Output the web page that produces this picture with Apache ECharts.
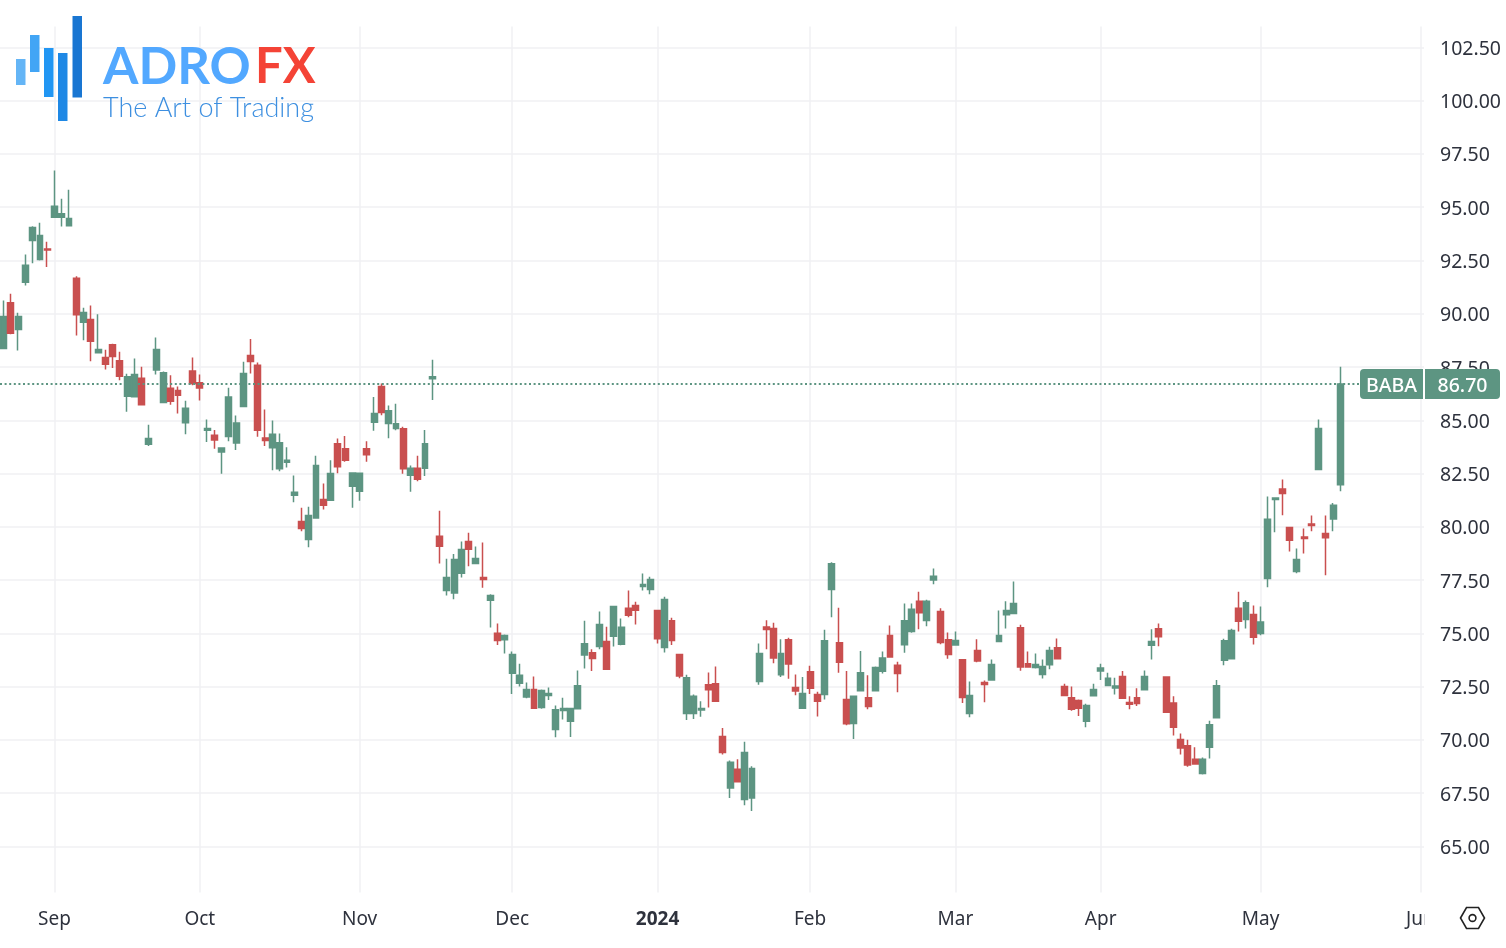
<!DOCTYPE html>
<html>
<head>
<meta charset="utf-8">
<title>BABA</title>
<script src="https://cdn.jsdelivr.net/npm/echarts@6/dist/echarts.min.js"></script>
<style>
  html, body { margin: 0; padding: 0; background: #fff; }
  #chart { width: 1506px; height: 948px; }
</style>
</head>
<body>
<div id="chart"></div>
<script>
// --- séances de bourse, y compris celles à venir jusqu'au 3 juin --- //
const tradingDays = [
  '2023-08-23','2023-08-24','2023-08-25','2023-08-28','2023-08-29','2023-08-30','2023-08-31',
  '2023-09-01','2023-09-05','2023-09-06','2023-09-07','2023-09-08','2023-09-11','2023-09-12','2023-09-13','2023-09-14','2023-09-15','2023-09-18','2023-09-19','2023-09-20','2023-09-21','2023-09-22','2023-09-25','2023-09-26','2023-09-27','2023-09-28','2023-09-29',
  '2023-10-02','2023-10-03','2023-10-04','2023-10-05','2023-10-06','2023-10-09','2023-10-10','2023-10-11','2023-10-12','2023-10-13','2023-10-16','2023-10-17','2023-10-18','2023-10-19','2023-10-20','2023-10-23','2023-10-24','2023-10-25','2023-10-26','2023-10-27','2023-10-30','2023-10-31',
  '2023-11-01','2023-11-02','2023-11-03','2023-11-06','2023-11-07','2023-11-08','2023-11-09','2023-11-10','2023-11-13','2023-11-14','2023-11-15','2023-11-16','2023-11-17','2023-11-20','2023-11-21','2023-11-22','2023-11-24','2023-11-27','2023-11-28','2023-11-29','2023-11-30',
  '2023-12-01','2023-12-04','2023-12-05','2023-12-06','2023-12-07','2023-12-08','2023-12-11','2023-12-12','2023-12-13','2023-12-14','2023-12-15','2023-12-18','2023-12-19','2023-12-20','2023-12-21','2023-12-22','2023-12-26','2023-12-27','2023-12-28','2023-12-29',
  '2024-01-02','2024-01-03','2024-01-04','2024-01-05','2024-01-08','2024-01-09','2024-01-10','2024-01-11','2024-01-12','2024-01-16','2024-01-17','2024-01-18','2024-01-19','2024-01-22','2024-01-23','2024-01-24','2024-01-25','2024-01-26','2024-01-29','2024-01-30','2024-01-31',
  '2024-02-01','2024-02-02','2024-02-05','2024-02-06','2024-02-07','2024-02-08','2024-02-09','2024-02-12','2024-02-13','2024-02-14','2024-02-15','2024-02-16','2024-02-20','2024-02-21','2024-02-22','2024-02-23','2024-02-26','2024-02-27','2024-02-28','2024-02-29',
  '2024-03-01','2024-03-04','2024-03-05','2024-03-06','2024-03-07','2024-03-08','2024-03-11','2024-03-12','2024-03-13','2024-03-14','2024-03-15','2024-03-18','2024-03-19','2024-03-20','2024-03-21','2024-03-22','2024-03-25','2024-03-26','2024-03-27','2024-03-28',
  '2024-04-01','2024-04-02','2024-04-03','2024-04-04','2024-04-05','2024-04-08','2024-04-09','2024-04-10','2024-04-11','2024-04-12','2024-04-15','2024-04-16','2024-04-17','2024-04-18','2024-04-19','2024-04-22','2024-04-23','2024-04-24','2024-04-25','2024-04-26','2024-04-29','2024-04-30',
  '2024-05-01','2024-05-02','2024-05-03','2024-05-06','2024-05-07','2024-05-08','2024-05-09','2024-05-10','2024-05-13','2024-05-14','2024-05-15','2024-05-16','2024-05-17','2024-05-20','2024-05-21','2024-05-22','2024-05-23','2024-05-24','2024-05-28','2024-05-29','2024-05-30','2024-05-31',
  '2024-06-03'
];

const opens = [
  88.37,90.52,89.26,91.48,93.44,92.55,93.04,94.53,94.53,94.13,
  91.66,89.60,89.73,88.17,87.95,88.54,87.79,86.13,86.11,86.97,
  83.87,87.36,85.84,86.50,86.40,84.89,87.31,86.76,84.53,84.30,
  83.51,84.24,83.93,85.65,88.04,87.58,84.17,83.71,82.73,83.03,
  81.48,80.25,79.40,80.42,81.28,81.25,83.90,83.67,81.90,81.67,
  83.67,84.91,86.59,84.85,84.62,84.60,82.42,82.75,82.75,86.95,
  79.56,77.01,76.89,77.82,79.31,78.28,77.62,76.56,75.01,74.70,
  73.13,72.66,72.01,72.37,71.52,72.09,70.49,71.38,70.88,71.46,
  73.98,74.09,74.39,74.62,74.87,74.49,76.18,76.31,77.20,77.06,
  76.07,74.34,75.59,74.01,71.24,71.24,71.41,72.59,72.64,70.16,
  67.74,68.62,67.21,67.27,72.74,75.30,75.23,73.06,74.70,72.46,
  71.49,73.20,72.13,72.13,77.06,74.56,71.90,70.77,72.31,71.98,
  72.31,73.22,74.90,73.50,74.47,75.09,76.51,75.60,77.50,76.03,
  74.70,74.45,73.76,71.24,74.20,72.70,72.81,74.62,75.88,75.93,
  75.26,73.57,73.40,73.07,73.53,74.32,72.51,71.98,71.85,70.88,
  72.07,73.24,72.56,72.44,72.98,71.76,71.98,72.36,74.44,75.22,
  72.95,71.73,70.02,69.73,69.09,68.43,69.66,71.04,73.74,73.81,
  76.18,75.65,75.89,74.99,77.57,81.28,81.78,79.97,77.90,79.52,
  80.13,82.69,79.69,80.37,81.97
];
const highs = [
  90.62,90.94,90.05,92.78,94.11,94.27,93.38,96.72,95.40,95.82,
  91.76,90.28,90.39,89.98,88.31,88.59,88.22,87.18,87.90,87.51,
  84.79,88.89,87.29,87.11,86.58,85.92,87.95,87.15,85.04,84.54,
  83.73,86.53,85.23,87.75,88.81,87.71,85.51,84.99,84.38,83.73,
  82.41,80.90,80.94,83.34,82.03,83.12,84.15,84.26,82.55,82.53,
  84.02,86.09,86.73,85.70,85.78,84.70,82.88,83.34,84.54,87.84,
  80.76,78.50,78.73,79.31,79.72,79.08,79.27,76.84,75.46,74.95,
  74.15,73.57,72.70,72.98,72.37,72.46,71.62,71.98,71.50,73.26,
  75.59,74.25,76.03,75.31,76.29,75.70,77.01,76.48,77.81,77.66,
  76.11,76.72,75.73,74.03,73.06,72.13,71.81,73.17,73.44,70.56,
  69.03,69.09,69.92,68.77,74.53,75.62,75.50,74.73,74.80,73.07,
  72.95,73.48,72.26,75.17,78.34,76.20,73.23,72.09,74.17,73.03,
  73.44,74.15,75.37,73.67,76.40,76.40,76.95,76.58,78.05,76.18,
  75.04,75.09,73.77,72.74,74.73,72.79,73.77,76.07,76.51,77.43,
  75.40,74.15,74.06,73.77,74.37,74.76,72.64,72.51,71.90,71.70,
  72.64,73.57,73.15,72.92,73.23,72.05,72.42,73.26,75.19,75.46,
  72.98,72.05,70.30,70.01,69.66,69.18,70.90,72.81,74.75,75.22,
  76.95,76.54,76.31,76.26,81.42,81.37,82.22,79.99,78.98,79.92,
  80.53,85.04,80.53,81.12,87.51
];
const lows = [
  88.34,89.04,88.27,91.33,92.37,92.50,92.19,94.53,94.10,94.11,
  88.98,88.76,87.77,88.16,87.38,87.45,86.88,85.40,86.10,85.70,
  83.79,87.15,85.81,85.73,85.32,84.34,86.64,85.93,83.98,83.67,
  82.49,84.02,83.60,85.62,87.20,84.23,83.79,82.66,82.61,82.78,
  81.15,79.79,79.04,80.40,80.81,81.22,82.51,83.05,80.90,81.22,
  83.05,84.51,85.24,84.16,84.53,82.49,81.65,82.14,82.38,85.95,
  78.28,76.78,76.60,77.62,78.15,78.25,77.14,75.28,74.46,74.06,
  72.15,72.51,71.95,71.47,71.46,71.87,70.12,70.96,70.14,71.44,
  73.35,73.23,74.26,73.30,74.39,74.44,75.76,75.42,77.01,76.84,
  74.53,74.10,74.45,72.89,70.93,70.98,71.09,71.52,71.79,69.32,
  67.27,68.02,66.94,66.66,72.59,74.26,73.60,72.95,72.87,72.10,
  71.47,72.15,71.10,71.90,75.76,73.15,70.69,70.04,72.29,71.44,
  72.28,73.12,73.87,72.24,74.09,75.03,75.19,75.34,77.31,74.49,
  73.81,74.42,71.73,71.06,73.65,71.77,72.79,74.59,75.23,75.91,
  73.25,73.40,73.35,72.88,73.32,73.79,72.05,71.37,71.12,70.60,
  72.05,72.81,72.52,72.13,71.94,71.44,71.59,72.34,73.77,74.40,
  71.28,70.21,69.32,68.74,68.85,68.38,69.13,71.01,73.51,73.79,
  75.09,75.23,74.48,74.91,77.17,79.75,80.54,78.84,77.82,78.75,
  79.79,82.66,77.73,79.79,81.67
];
const closes = [
  89.87,89.08,89.87,92.27,94.05,93.67,92.99,95.05,94.69,94.47,
  89.95,90.06,88.71,88.32,87.63,87.99,87.07,87.04,87.15,85.73,
  84.15,88.32,87.23,85.89,86.17,85.56,86.73,86.51,84.62,84.07,
  83.70,86.09,84.87,87.19,87.76,84.53,84.05,84.34,83.95,83.12,
  81.62,79.92,80.53,82.88,81.01,82.50,82.82,83.13,82.53,82.51,
  83.38,85.32,85.37,85.45,84.84,82.73,82.75,82.23,83.90,87.04,
  79.09,77.62,78.47,78.94,78.95,78.51,77.53,76.78,74.67,74.90,
  74.01,73.03,72.37,71.49,72.32,72.18,71.42,71.48,71.48,72.54,
  74.51,73.82,75.42,73.32,76.26,75.29,75.85,76.09,77.29,77.53,
  74.75,76.59,74.67,73.00,72.92,72.05,71.48,72.36,71.81,69.41,
  68.95,68.04,69.41,68.66,74.06,75.18,73.84,74.06,73.56,72.30,
  72.18,72.42,71.81,74.65,78.27,73.65,70.76,72.05,73.15,71.57,
  73.40,73.84,73.89,73.12,75.59,76.13,75.97,76.51,77.68,74.57,
  74.01,74.67,71.99,72.09,73.70,72.60,73.54,74.90,76.07,76.40,
  73.42,73.42,73.54,73.44,74.20,73.81,72.09,71.44,71.49,71.62,
  72.37,73.38,72.90,72.53,71.96,71.67,71.71,72.98,74.62,74.84,
  71.30,70.60,69.62,68.82,68.87,69.09,70.71,72.54,74.65,75.14,
  75.57,76.44,74.82,75.54,80.36,81.35,81.56,79.37,78.47,79.45,
  80.06,84.62,79.49,81.01,86.70
];

const priceTicks = [65, 67.5, 70, 72.5, 75, 77.5, 80, 82.5, 85, 87.5, 90, 92.5, 95, 97.5, 100, 102.5];
const monthDays = ['2023-09-01','2023-10-02','2023-11-01','2023-12-01','2024-01-02','2024-02-01','2024-03-01','2024-04-01','2024-05-01','2024-06-03'];
const monthLabels = ['Sep','Oct','Nov','Dec','2024','Feb','Mar','Apr','May','Jun'];
const symbol = 'BABA';
const lastPrice = 86.70;

const upColor = '#5d9582';
const downColor = '#c94f4f';
const gridColor = '#f0f1f3';
const textColor = '#2e323d';
const labelFont = '"Noto Sans", sans-serif';

const isMonthDay = (i, day) => monthDays.includes(day);

// --- logo et icône, en dehors du repère --- //
const logoBars = [
  { x: 16, y: 59, width: 9.5, height: 26, fill: '#64b5f6' },
  { x: 30, y: 35, width: 9.5, height: 37, fill: '#42a5f5' },
  { x: 44, y: 48, width: 9.5, height: 49, fill: '#2196f3' },
  { x: 58, y: 53, width: 9.5, height: 68, fill: '#1e88e5' },
  { x: 72.5, y: 16, width: 9.5, height: 81.5, fill: '#1976d2' }
];

const option = {
  animation: false,
  backgroundColor: '#fff',
  grid: { left: 0, right: 82, top: 26.5, bottom: 55.5 },
  xAxis: {
    type: 'category',
    data: tradingDays,
    boundaryGap: true,
    axisLine: { show: false },
    axisTick: { show: false },
    splitLine: {
      show: true,
      interval: isMonthDay,
      alignWithLabel: true,
      lineStyle: { color: gridColor, width: 1.5 }
    },
    axisLabel: {
      interval: isMonthDay,
      margin: 18,
      fontSize: 19,
      fontFamily: labelFont,
      color: textColor,
      hideOverlap: false,
      formatter: (day) => {
        const label = monthLabels[monthDays.indexOf(day)];
        return label === '2024' ? '{year|' + label + '}' : label;
      },
      rich: {
        year: { fontSize: 19, fontWeight: 'bold', fontFamily: labelFont, color: textColor }
      }
    }
  },
  yAxis: {
    type: 'value',
    position: 'right',
    min: 62.84,
    max: 103.48,
    axisLine: { show: false },
    axisTick: { show: false, customValues: priceTicks },
    splitLine: { show: true, lineStyle: { color: gridColor, width: 1.5 } },
    axisLabel: {
      customValues: priceTicks,
      margin: 16,
      fontSize: 19.5,
      fontFamily: labelFont,
      color: textColor,
      verticalAlign: 'top',
      lineHeight: 4,
      formatter: (v) => v.toFixed(2)
    }
  },
  series: [
    {
      type: 'candlestick',
      barWidth: 6.4,
      data: opens.map((o, i) => [o, closes[i], lows[i], highs[i]]),
      itemStyle: {
        color: upColor,
        color0: downColor,
        borderColor: upColor,
        borderColor0: downColor,
        borderWidth: 1.5
      },
      markLine: {
        silent: true,
        symbol: 'none',
        animation: false,
        data: [{ yAxis: lastPrice }],
        lineStyle: { color: upColor, type: [2, 2.6], width: 2 },
        label: {
          show: true,
          position: 'end',
          distance: -64,
          formatter: '{sym|' + symbol + '}{gap| }{val|' + lastPrice.toFixed(2) + '}',
          rich: {
            sym: {
              backgroundColor: upColor, color: '#fff', fontSize: 19.5, fontWeight: 500, fontFamily: labelFont,
              width: 63, height: 26, lineHeight: 26, padding: [4, 0, 0, 0], align: 'center', borderRadius: [4, 0, 0, 4]
            },
            gap: { width: 2, height: 30, backgroundColor: '#fff', fontSize: 2 },
            val: {
              backgroundColor: upColor, color: '#fff', fontSize: 19.5, fontWeight: 500, fontFamily: labelFont,
              width: 75, height: 26, lineHeight: 26, padding: [4, 0, 0, 0], align: 'center', borderRadius: [0, 4, 4, 0]
            }
          }
        }
      }
    }
  ],
  graphic: [
    // --- masque le "n" de Jun sous l'échelle de prix --- //
    { type: 'rect', shape: { x: 1424.5, y: 900, width: 30, height: 40 }, style: { fill: '#fff' }, z: 10 },
    // --- icône de réglages --- //
    {
      type: 'polygon',
      shape: { points: [[1460.5, 918], [1466.5, 907.5], [1478.5, 907.5], [1484.5, 918], [1478.5, 928.5], [1466.5, 928.5]] },
      style: { fill: 'none', stroke: '#222', lineWidth: 1.6 },
      z: 10
    },
    { type: 'circle', shape: { cx: 1472.5, cy: 918, r: 3.4 }, style: { fill: 'none', stroke: '#222', lineWidth: 1.6 }, z: 10 },
    // --- logo --- //
    ...logoBars.map((b) => ({
      type: 'rect',
      shape: { x: b.x, y: b.y, width: b.width, height: b.height },
      style: { fill: b.fill },
      z: 10
    })),
    {
      type: 'text', x: 103, y: 42, z: 10,
      style: { text: 'ADRO', fill: '#52a8ff', font: 'bold 51px Lato, sans-serif' }
    },
    {
      type: 'text', x: 255, y: 43, z: 10,
      style: { text: 'FX', fill: '#f44336', font: 'bold 49px Lato, sans-serif' }
    },
    {
      type: 'text', x: 103, y: 94.5, z: 10,
      style: { text: 'The Art of Trading', fill: '#3d8fe0', font: '300 27px Lato, sans-serif' }
    }
  ]
};

const chart = echarts.init(document.getElementById('chart'));
chart.setOption(option);
</script>
</body>
</html>
